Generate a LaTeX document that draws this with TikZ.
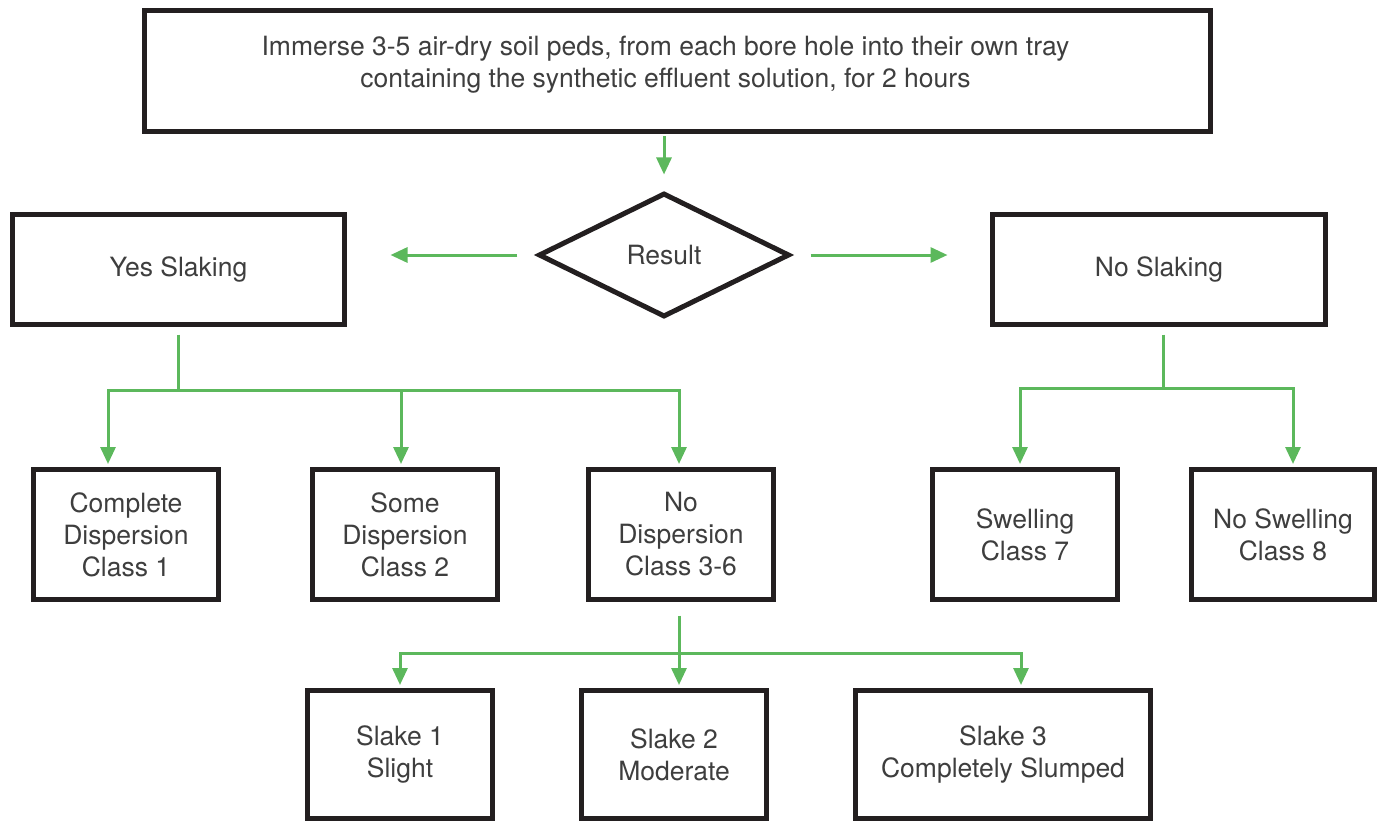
\documentclass[tikz,border=0pt]{standalone}
\usepackage{fontspec}
\setmainfont{TeX Gyre Heros}
\usetikzlibrary{shapes.geometric,arrows.meta}
\definecolor{flowgreen}{RGB}{92,184,92}
\definecolor{boxblack}{RGB}{35,31,32}
\definecolor{labelgray}{RGB}{62,62,62}

\begin{document}
\begin{tikzpicture}[x=1pt,y=1pt,yscale=-1,
    stage/.style={draw=boxblack,line width=5pt,fill=white,align=center,inner sep=0pt,
        text=labelgray,font=\fontsize{26.5}{32}\selectfont},
    decide/.style={stage,diamond,aspect=2},
    flow/.style={draw=flowgreen,line width=3pt},
    flowarrow/.style={flow,-{Triangle[width=15pt,length=17pt]},shorten >=3pt}]
            \useasboundingbox (0,0) rectangle (1378,821);
            \node[stage,minimum width=1066pt,minimum height=121pt,text depth=18pt] (immerse) at (677.5,71)
                {Immerse 3-5 air-dry soil peds, from each bore hole into their own tray\hspace*{24pt}\\containing the synthetic effluent solution, for 2 hours\hspace*{24pt}};
            \node[decide,minimum width=251pt,minimum height=124pt] (result) at (664,255) {Result};
            \node[stage,minimum width=332pt,minimum height=110pt] (yes) at (178.5,269.5) {Yes Slaking};
            \node[stage,minimum width=333pt,minimum height=110pt] (no) at (1159,269.5) {No Slaking};
            \node[stage,minimum width=185pt,minimum height=130pt] (complete) at (126,534.5) {Complete\\Dispersion\\Class 1};
            \node[stage,minimum width=185pt,minimum height=130pt] (some) at (405,534.5) {Some\\Dispersion\\Class 2};
            \node[stage,minimum width=185pt,minimum height=130pt] (nodisp) at (681,534.5) {No\\Dispersion\\Class 3-6};
            \node[stage,minimum width=185pt,minimum height=130pt] (swelling) at (1025,534.5) {Swelling\\Class 7};
            \node[stage,minimum width=183pt,minimum height=130pt] (noswell) at (1283,534.5) {No Swelling\\Class 8};
            \node[stage,minimum width=185pt,minimum height=128pt] (slake1) at (400,754.5) {Slake 1\\Slight};
            \node[stage,minimum width=185pt,minimum height=128pt] (slake2) at (674,754.5) {Slake 2\\Moderate};
            \node[stage,minimum width=295pt,minimum height=128pt] (slake3) at (1003,754.5) {Slake 3\\Completely Slumped};
            \coordinate (yesbus) at (178.5,390);
            \coordinate (nobus) at (1163,388);
            \coordinate (dispbus) at (679,653);
            \draw[flowarrow,shorten <=2.5pt,shorten >=16pt] (immerse.south -| result.north) -- (result.north);
            \draw[flowarrow,shorten <=18.6pt,shorten >=43.5pt] (result.west) -- (result.west -| yes.east);
            \draw[flowarrow,shorten <=18.6pt,shorten >=42.5pt] (result.east) -- (result.east -| no.west);
            \draw[flow,shorten <=7.5pt] (yes.south) -- (yesbus);
            \draw[flowarrow] (yesbus) -| ([xshift=-18pt]complete.north);
            \draw[flowarrow] (yesbus) -| ([xshift=-4pt]some.north);
            \draw[flowarrow] (yesbus) -| ([xshift=-2pt]nodisp.north);
            \draw[flow,shorten <=7.5pt] (no.south -| nobus) -- (nobus);
            \draw[flowarrow] (nobus) -| ([xshift=-5pt]swelling.north);
            \draw[flowarrow] (nobus) -| ([xshift=10pt]noswell.north);
            \draw[flowarrow,shorten <=13.5pt] (nodisp.south -| dispbus) -- (slake2.north -| dispbus);
            \draw[flowarrow] (dispbus) -| (slake1.north);
            \draw[flowarrow] (dispbus) -| ([xshift=18pt]slake3.north);
        \end{tikzpicture}
\end{document}
